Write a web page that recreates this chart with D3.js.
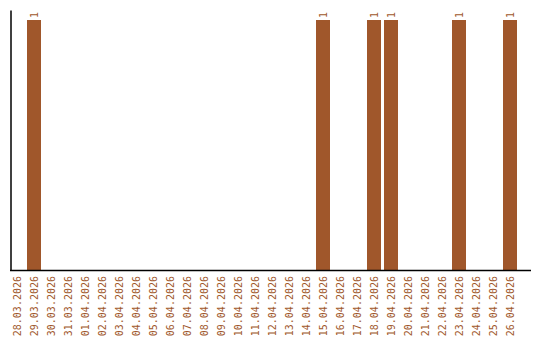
<!DOCTYPE html>
<html>
<head>
<meta charset="utf-8">
<script src="https://cdn.jsdelivr.net/npm/d3@7"></script>
<style>
  html, body { margin: 0; padding: 0; background: #fff; }
  svg { display: block; }
</style>
</head>
<body>
<svg id="chart" width="540" height="340"></svg>
<script>
const categories = [
  "28.03.2026","29.03.2026","30.03.2026","31.03.2026","01.04.2026","02.04.2026",
  "03.04.2026","04.04.2026","05.04.2026","06.04.2026","07.04.2026","08.04.2026",
  "09.04.2026","10.04.2026","11.04.2026","12.04.2026","13.04.2026","14.04.2026",
  "15.04.2026","16.04.2026","17.04.2026","18.04.2026","19.04.2026","20.04.2026",
  "21.04.2026","22.04.2026","23.04.2026","24.04.2026","25.04.2026","26.04.2026"
];
const values = [
  0,1,0,0,0,0,
  0,0,0,0,0,0,
  0,0,0,0,0,0,
  1,0,0,1,1,0,
  0,0,1,0,0,1
];
const yMax = 1.04;

const color = "#a0572b";
const svg = d3.select("#chart");

const x = d3.scaleBand().domain(categories).range([8.5, 518.5]).paddingInner(3/17).paddingOuter(1.5/17);
const y = d3.scaleLinear().domain([0, yMax]).range([270, 10]);

const data = categories.map((c, i) => ({ c, v: values[i] }));

// bars
svg.append("g").selectAll("rect").data(data.filter(d => d.v > 0)).join("rect")
  .attr("x", d => x(d.c))
  .attr("y", d => y(d.v))
  .attr("width", x.bandwidth())
  .attr("height", d => y(0) - y(d.v))
  .attr("fill", "#a0572b");

// value labels
svg.append("g").selectAll("text").data(data.filter(d => d.v > 0)).join("text")
  .attr("transform", d => `translate(${x(d.c) + x.bandwidth() / 2},${y(d.v) - 2}) rotate(-90)`)
  .attr("dy", "0.35em")
  .attr("text-anchor", "start")
  .attr("font-family", "DejaVu Sans Mono, monospace")
  .attr("font-size", 10)
  .attr("fill", color)
  .text(d => d.v);

// x axis
const xAxis = d3.axisBottom(x).tickSize(0).tickPadding(0);
const gx = svg.append("g").attr("transform", "translate(0,270)").call(xAxis);
gx.select(".domain").remove();
gx.append("line").attr("x1", 10).attr("x2", 531).attr("y1", 0.5).attr("y2", 0.5)
  .attr("stroke", "#000").attr("stroke-width", 1.5);
gx.selectAll(".tick text")
  .attr("font-family", "DejaVu Sans Mono, monospace")
  .attr("font-size", 10)
  .attr("fill", color)
  .attr("text-anchor", "end")
  .attr("transform", "translate(0,6) rotate(-90)")
  .attr("x", 0).attr("y", 0).attr("dy", "0.35em");

// y axis line
const yAxis = d3.axisLeft(y).tickValues([]).tickSizeOuter(0);
const gy = svg.append("g").attr("transform", "translate(10.5,0)").call(yAxis);
gy.select(".domain").attr("stroke", "#000").attr("stroke-width", 1.5);
</script>
</body>
</html>
